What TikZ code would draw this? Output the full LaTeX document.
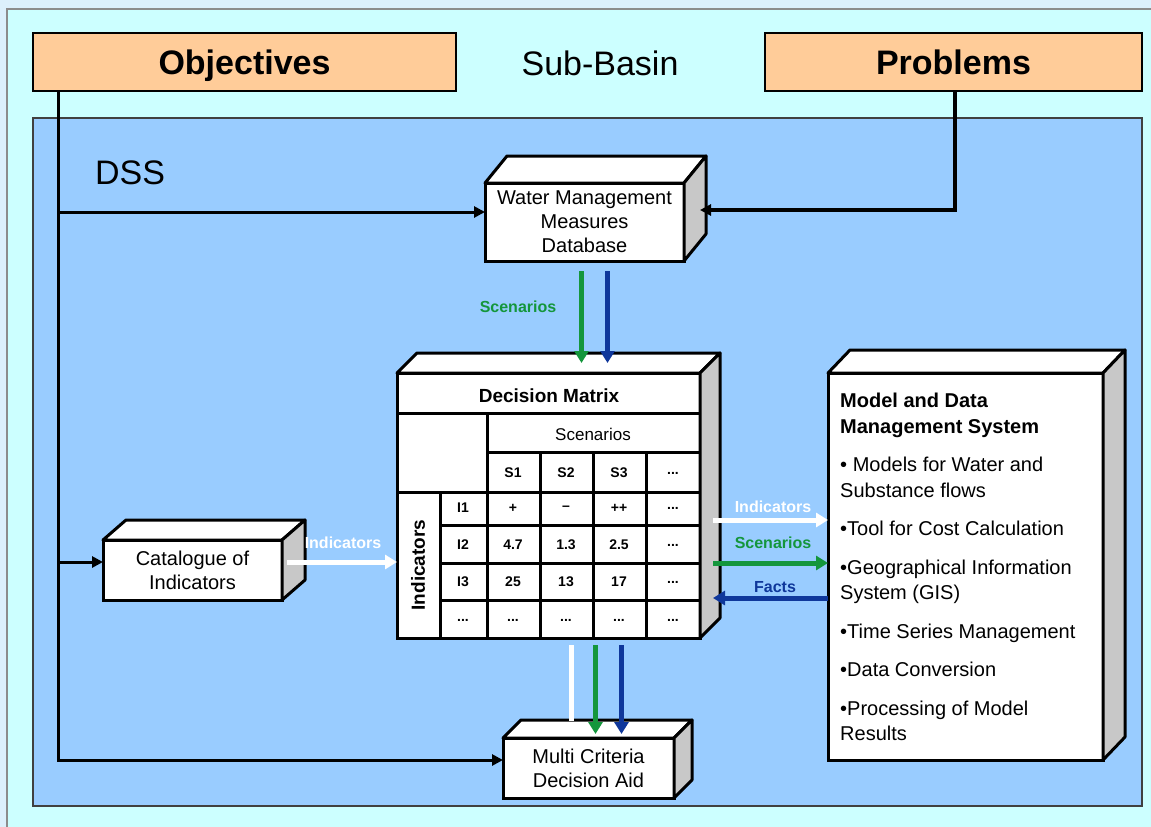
\documentclass[tikz,border=0pt]{standalone}
\usepackage{fontspec}
\setmainfont{Liberation Sans}
\usetikzlibrary{arrows.meta,calc}

\definecolor{skyback}{RGB}{220,240,252}
\definecolor{basin}{RGB}{204,255,255}
\definecolor{dsspanel}{RGB}{153,204,255}
\definecolor{peach}{RGB}{255,204,153}
\definecolor{boxside}{RGB}{200,200,200}
\definecolor{scengreen}{RGB}{20,150,60}
\definecolor{factblue}{RGB}{15,55,155}

\tikzset{
  headbox/.style={draw=black, line width=1.5pt, fill=peach, inner sep=0pt, outer sep=0pt,
    anchor=north west, text height=26pt, text depth=2pt, font=\bfseries\fontsize{34}{40}\selectfont},
  front/.style={draw=black, line width=3pt, fill=white, inner sep=0pt, outer sep=0pt,
    anchor=north west, align=center, font=\fontsize{20}{24}\selectfont},
  link/.style={line width=3pt, -{Triangle[length=11pt,width=11pt]}},
  flow/.style={line width=5pt, -{Triangle[length=12pt,width=14pt]}},
  flowlabel/.style={font=\bfseries\fontsize{16}{18}\selectfont, inner sep=0pt},
  cell/.style={font=\bfseries\fontsize{14}{16}\selectfont, inner sep=0pt},
}

% dots in a cell
\newcommand{\etc}{.\kern0pt.\kern0pt.}

% top and side face of a box node (#2 right, #3 up)
\newcommand{\boxfaces}[3]{%
  \draw[line width=3pt, line join=round, fill=white] (#1.north west) -- ++(#2,-#3)
    -- ($(#1.north east)+(#2,-#3)$) -- (#1.north east) -- cycle;
  \draw[line width=3pt, line join=round, fill=boxside] (#1.north east) -- ++(#2,-#3)
    -- ($(#1.south east)+(#2,-#3)$) -- (#1.south east) -- cycle;
}

\begin{document}
\begin{tikzpicture}[x=1pt, y=-1pt]

    % Background
    \useasboundingbox (0,0) rectangle (1151,827);
    \fill[skyback] (0,0) rectangle (1151,827);
    \draw[fill=basin, draw=black!45, line width=1.5pt] (7,9) rectangle (1160,840);
    \draw[fill=dsspanel, draw=black!75, line width=2pt] (33,118) rectangle (1142,806);

    % Define nodes
    \node[headbox, minimum width=423, minimum height=58] (obj) at (33,33) {Objectives};
    \node[headbox, minimum width=377, minimum height=58] (prob) at (765,33) {Problems};
    \node[font=\fontsize{34}{40}\selectfont] (subbasin) at (600,63) {Sub-Basin};
    \node[font=\fontsize{34}{40}\selectfont] (dss) at (130,173) {DSS};

    \node[front, minimum width=199, minimum height=78] (wmm) at (485,183)
      {Water Management\\Measures\\Database};
    \boxfaces{wmm}{22}{27}

    \node[front, minimum width=179, minimum height=60] (cat) at (103,540)
      {Catalogue of\\Indicators};
    \boxfaces{cat}{23}{20}

    \node[front, minimum width=171, minimum height=60] (mcda) at (503,738)
      {Multi Criteria\\Decision Aid};
    \boxfaces{mcda}{18}{18}

    \node[front, minimum width=275, minimum height=387] (mds) at (828,373) {};
    \boxfaces{mds}{22}{23}
    \node[anchor=north west, align=left, inner sep=0pt, font=\fontsize{20}{25.5}\selectfont]
      (mdstext) at (840,393)
      {\textbf{Model and Data}\\\textbf{Management System}\\[13pt]
       • Models for Water and\\Substance flows\\[13pt]
       •Tool for Cost Calculation\\[13pt]
       •Geographical Information\\System (GIS)\\[13pt]
       •Time Series Management\\[13pt]
       •Data Conversion\\[13pt]
       •Processing of Model\\Results};

    % Decision matrix
    \node[front, minimum width=303, minimum height=265] (dm) at (397,373) {};
    \boxfaces{dm}{20}{20}
    \begin{scope}[line width=3pt]
      \draw (397,413) -- (700,413);
      \draw (487,413) -- (487,638);
      \draw (487,452) -- (700,452);
      \draw (397,492) -- (700,492);
      \draw (440,492) -- (440,638);
      \foreach \x in {540,593,646} \draw (\x,452) -- (\x,638);
      \foreach \y in {525,563,600} \draw (440,\y) -- (700,\y);
    \end{scope}
    \node[font=\bfseries\fontsize{19}{20}\selectfont] (dmtitle) at (549,396) {Decision Matrix};
    \node[font=\fontsize{17}{18}\selectfont] (scenhead) at (593,434) {Scenarios};
    \node[font=\bfseries\fontsize{19}{20}\selectfont, rotate=90] (indhead) at (418,565) {Indicators};
    \foreach \x/\t in {513/S1,566/S2,619/S3,673/\etc}
      \node[cell] at (\x,473) {\t};
    \foreach \y/\a/\b/\c/\d/\e in {508/I1/+/--/++/\etc, 545/I2/4.7/1.3/2.5/\etc,
        582/I3/25/13/17/\etc, 620/\etc/\etc/\etc/\etc/\etc}{
      \node[cell] at (463,\y) {\a};
      \node[cell] at (513,\y) {\b};
      \node[cell] at (566,\y) {\c};
      \node[cell] at (619,\y) {\d};
      \node[cell] at (673,\y) {\e};
    }

    % Connect the nodes
    \coordinate (objdrop) at ($(obj.south west)+(25,0)$);
    \coordinate (wmmin) at ($(wmm.west)+(0,-10)$);
    \coordinate (catin) at ($(cat.west)+(0,-8)$);
    \coordinate (mcdain) at ($(mcda.west)+(0,-8)$);
    \draw[link] (objdrop) |- (mcdain);
    \draw[link] (objdrop |- wmmin) -- (wmmin);
    \draw[link] (objdrop |- catin) -- (catin);

    \coordinate (probdrop) at ($(prob.south west)+(190,0)$);
    \coordinate (wmmside) at ($(wmm.east)+(16,-12)$);
    \draw[link, line width=3.5pt] (probdrop) |- (wmmside);

    % Flows between the boxes
    \coordinate (wmmout) at ($(wmm.south)+(-3,10)$);
    \coordinate (wmmout2) at ($(wmm.south)+(23,10)$);
    \coordinate (dmtop) at ($(dm.north)+(0,-10)$);
    \draw[flow, scengreen] (wmmout) -- (wmmout |- dmtop);
    \draw[flow, factblue] (wmmout2) -- (wmmout2 |- dmtop);
    \node[flowlabel, text=scengreen] (scenlbl) at (518,307) {Scenarios};

    \coordinate (catout) at ($(cat.east)+(5,-8)$);
    \draw[flow, white] (catout) -- (catout -| dm.west);
    \node[flowlabel, text=white] (indlbl) at (343,543) {Indicators};

    \coordinate (dmside) at ($(dm.east)+(13,0)$);
    \coordinate (row1) at (0,520);
    \coordinate (row2) at (0,563);
    \coordinate (row3) at (0,598);
    \draw[flow, white] (dmside |- row1) -- (mds.west |- row1);
    \draw[flow, scengreen] (dmside |- row2) -- (mds.west |- row2);
    \draw[flow, factblue] (mds.west |- row3) -- (dmside |- row3);
    \node[flowlabel, text=white] (indlbl2) at (773,507) {Indicators};
    \node[flowlabel, text=scengreen] (scenlbl2) at (773,543) {Scenarios};
    \node[flowlabel, text=factblue] (factlbl) at (775,587) {Facts};

    \coordinate (dmout1) at ($(dm.south)+(23,7)$);
    \coordinate (dmout2) at ($(dm.south)+(47,7)$);
    \coordinate (dmout3) at ($(dm.south)+(73,7)$);
    \coordinate (mcdatop) at ($(mcda.north)+(0,-17)$);
    \coordinate (mcdahit) at ($(mcda.north)+(0,-4)$);
    \draw[line width=5pt, white] (dmout1) -- (dmout1 |- mcdatop);
    \draw[flow, scengreen] (dmout2) -- (dmout2 |- mcdahit);
    \draw[flow, factblue] (dmout3) -- (dmout3 |- mcdahit);

\end{tikzpicture}
\end{document}
